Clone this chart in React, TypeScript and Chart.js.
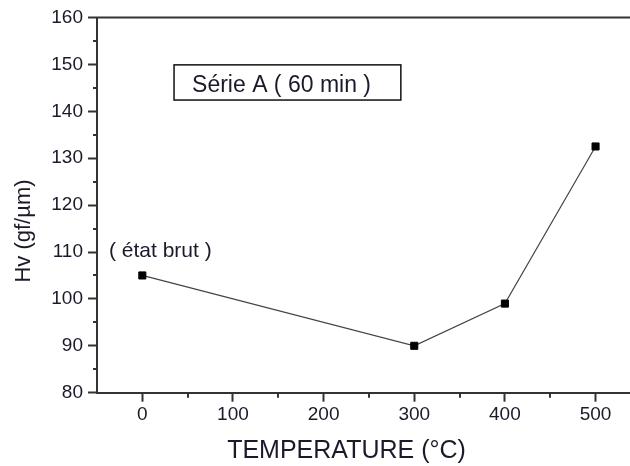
import React, { useEffect, useRef } from 'react';
import { Chart, registerables } from 'chart.js';

Chart.register(...registerables);

const temperatures = [0, 300, 400, 500];
const hardness = [105, 90, 99, 132.5];
const xMajorTicks = [0, 100, 200, 300, 400, 500];
const xMinorTicks = [50, 150, 250, 350, 450];
const yMajorTicks = [80, 90, 100, 110, 120, 130, 140, 150, 160];
const yMinorTicks = [85, 95, 105, 115, 125, 135, 145, 155];
const xTitle = 'TEMPERATURE (°C)';
const yTitle = 'Hv (gf/µm)';
const seriesLabel = 'Série A ( 60 min )';
const rawLabel = '( état brut )';

const FONT = '"Liberation Sans", Arial, sans-serif';
const TEXT = '#1a1a2a';
const AXIS = '#333333';

const decorPlugin = {
  id: 'decor',
  afterDraw(chart: any) {
    const { ctx, chartArea } = chart;
    const xs = chart.scales.x;
    const ys = chart.scales.y;
    ctx.save();
    // top border
    ctx.strokeStyle = AXIS;
    ctx.lineWidth = 2;
    ctx.beginPath();
    ctx.moveTo(chartArea.left - 1, chartArea.top);
    ctx.lineTo(chartArea.right, chartArea.top);
    ctx.stroke();
    // minor ticks
    ctx.beginPath();
    xMinorTicks.forEach((v) => {
      const px = Math.round(xs.getPixelForValue(v));
      ctx.moveTo(px, chartArea.bottom);
      ctx.lineTo(px, chartArea.bottom + 5);
    });
    yMinorTicks.forEach((v) => {
      const py = Math.round(ys.getPixelForValue(v));
      ctx.moveTo(chartArea.left, py);
      ctx.lineTo(chartArea.left - 4, py);
    });
    ctx.stroke();
    // axis titles
    ctx.fillStyle = TEXT;
    ctx.font = `25px ${FONT}`;
    ctx.textAlign = 'center';
    ctx.textBaseline = 'alphabetic';
    ctx.fillText(xTitle, 346.5, 458);
    ctx.save();
    ctx.translate(30, 231);
    ctx.rotate(-Math.PI / 2);
    ctx.font = `22px ${FONT}`;
    ctx.fillText(yTitle, 0, 0);
    ctx.restore();
    // series label box
    const bx0 = xs.getPixelForValue(35);
    const by0 = ys.getPixelForValue(149.9);
    const bx1 = xs.getPixelForValue(285.2);
    const by1 = ys.getPixelForValue(142.4);
    ctx.strokeStyle = '#111';
    ctx.lineWidth = 1.5;
    ctx.strokeRect(bx0, by0, bx1 - bx0, by1 - by0);
    ctx.font = `23px ${FONT}`;
    ctx.textAlign = 'left';
    ctx.fillText(seriesLabel, bx0 + 18, ys.getPixelForValue(144.2));
    // raw state label
    ctx.font = `21px ${FONT}`;
    ctx.fillText(rawLabel, xs.getPixelForValue(-36.8), ys.getPixelForValue(108.9));
    ctx.restore();
  },
};

export default function App() {
  const canvasRef = useRef<HTMLCanvasElement | null>(null);

  useEffect(() => {
    document.body.style.margin = '0';
    const canvas = canvasRef.current;
    if (!canvas) return;
    const chart = new Chart(canvas, {
      type: 'line',
      data: {
        datasets: [
          {
            data: temperatures.map((t, i) => ({ x: t, y: hardness[i] })),
            borderColor: '#444',
            borderWidth: 1.2,
            pointStyle: 'rect',
            pointRadius: 5,
            pointBackgroundColor: '#000',
            pointBorderColor: '#000',
            pointBorderWidth: 1,
            tension: 0,
            clip: false,
          },
        ],
      },
      options: {
        animation: false,
        responsive: false,
        maintainAspectRatio: false,
        layout: { autoPadding: false, padding: { top: 17.5, right: 0, left: 0, bottom: 0 } },
        plugins: { legend: { display: false }, tooltip: { enabled: false } },
        scales: {
          x: {
            type: 'linear',
            min: -50,
            max: 538,
            afterBuildTicks: (scale: any) => {
              scale.ticks = xMajorTicks.map((v) => ({ value: v }));
            },
            afterFit: (scale: any) => {
              scale.height = 73.3;
              scale.paddingLeft = 0;
              scale.paddingRight = 0;
            },
            grid: {
              drawOnChartArea: false,
              drawTicks: true,
              tickLength: 9,
              tickWidth: 2,
              tickColor: AXIS,
            },
            border: { display: true, color: AXIS, width: 2 },
            ticks: {
              padding: 2,
              color: TEXT,
              font: { family: FONT, size: 19 },
              maxRotation: 0,
              autoSkip: false,
            },
          },
          y: {
            type: 'linear',
            min: 80,
            max: 160,
            afterBuildTicks: (scale: any) => {
              scale.ticks = yMajorTicks.map((v) => ({ value: v }));
            },
            afterFit: (scale: any) => {
              scale.width = 97;
            },
            grid: {
              drawOnChartArea: false,
              drawTicks: true,
              tickLength: 9,
              tickWidth: 2,
              tickColor: AXIS,
            },
            border: { display: true, color: AXIS, width: 2 },
            ticks: {
              padding: 5,
              color: TEXT,
              font: { family: FONT, size: 19 },
              autoSkip: false,
            },
          },
        },
      },
      plugins: [decorPlugin],
    });
    return () => chart.destroy();
  }, []);

  return (
    <div style={{ width: 630, height: 466, position: 'relative', overflow: 'hidden' }}>
      <canvas ref={canvasRef} width={630} height={466} style={{ display: 'block' }} />
    </div>
  );
}
